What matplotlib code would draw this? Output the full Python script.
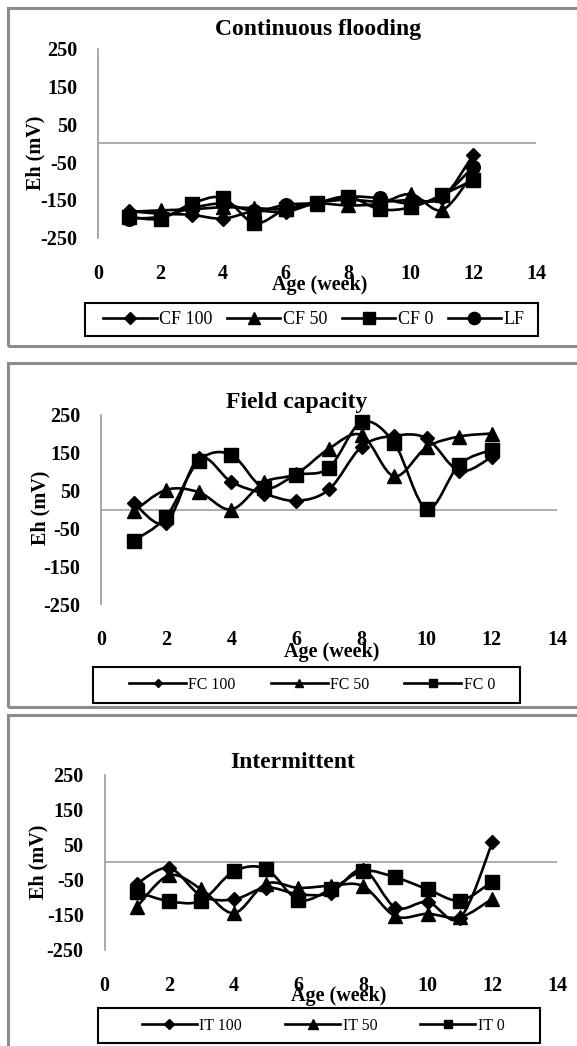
import numpy as np
import matplotlib
matplotlib.use('Agg')
import matplotlib.pyplot as plt
from matplotlib.path import Path
from matplotlib.patches import PathPatch, Rectangle
from matplotlib.lines import Line2D

plt.rcParams['font.family'] = ['Liberation Serif', 'DejaVu Serif']

# semanas
weeks = [1, 2, 3, 4, 5, 6, 7, 8, 9, 10, 11, 12]

# Continuous flooding
cf_100 = [-180, -187, -190, -200, -180, -182, -158, -150, -155, -150, -145, -30]
cf_50 = [-182, -178, -175, -170, -172, -175, -160, -165, -160, -135, -177, -78]
cf_0 = [-195, -200, -160, -145, -212, -175, -158, -142, -175, -170, -137, -97]
lf = [-200, -195, -172, -160, -180, -163, -158, -142, -146, -160, -140, -62]

# Field capacity
fc_100 = [18, -35, 135, 73, 42, 23, 53, 166, 195, 188, 102, 139]
fc_50 = [-5, 52, 46, 0, 72, 95, 161, 197, 88, 165, 193, 201]
fc_0 = [-83, -19, 128, 145, 57, 91, 110, 231, 176, 2, 119, 158]

# Intermittent
it_100 = [-62, -17, -97, -107, -73, -92, -88, -22, -130, -114, -160, 56]
it_50 = [-128, -38, -78, -146, -62, -74, -68, -69, -155, -148, -158, -105]
it_0 = [-85, -112, -110, -27, -20, -108, -78, -26, -44, -78, -110, -56]

y_ticks = [-250, -150, -50, 50, 150, 250]
x_ticks = [0, 2, 4, 6, 8, 10, 12, 14]

W, H = 577, 1046
fig = plt.figure(figsize=(W / 100, H / 100), dpi=100)


def caja(l, t, r, b):
    return [l / W, 1 - b / H, (r - l) / W, (b - t) / H]


def fx(x):
    return x / W


def fy(y):
    return 1 - y / H


def rect(l, t, r, b, color, lw):
    fig.add_artist(Rectangle((fx(l), fy(b)), (r - l) / W, (b - t) / H,
                             transform=fig.transFigure, fill=False,
                             edgecolor=color, lw=lw))


def curva(ax, x, y):
    # linea suavizada tipo Excel (Bezier)
    x = np.asarray(x, float)
    y = np.asarray(y, float)
    n = len(x)
    verts = [(x[0], y[0])]
    codes = [Path.MOVETO]
    for i in range(n - 1):
        i0 = max(i - 1, 0)
        i3 = min(i + 2, n - 1)
        c1 = (x[i] + (x[i + 1] - x[i0]) / 6, y[i] + (y[i + 1] - y[i0]) / 6)
        c2 = (x[i + 1] - (x[i3] - x[i]) / 6, y[i + 1] - (y[i3] - y[i]) / 6)
        verts += [c1, c2, (x[i + 1], y[i + 1])]
        codes += [Path.CURVE4] * 3
    ax.add_patch(PathPatch(Path(verts, codes), fill=False, edgecolor='black',
                           lw=1.9, zorder=2, capstyle='round', joinstyle='round'))


marcadores = {'D': 7.2, '^': 10, 's': 9.8, 'o': 9.8}


def panel(ax_box, borde, titulo, t_pos, yl_pos, xl_pos, series, nombres,
          ley_box, ley_centro, ley_size, ley_scale, ley_hl, ley_cs):
    rect(*borde, '#8c8c8c', 2.2)
    ax = fig.add_axes(caja(*ax_box))
    ax.set_xlim(0, 14)
    ax.set_ylim(-250, 250)
    ax.set_xticks(x_ticks)
    ax.set_yticks(y_ticks)
    ax.set_xticklabels([str(v) for v in x_ticks], fontsize=14.5, fontweight='bold')
    ax.set_yticklabels([str(v) for v in y_ticks], fontsize=14.5, fontweight='bold')
    ax.tick_params(length=0)
    ax.tick_params(axis='x', pad=19)
    ax.tick_params(axis='y', pad=15)
    for s in ['top', 'right', 'bottom']:
        ax.spines[s].set_visible(False)
    ax.spines['left'].set_color('#9a9a9a')
    ax.spines['left'].set_linewidth(1.2)
    ax.axhline(0, color='#a0a0a0', lw=1.2, zorder=1)
    ax.patch.set_alpha(0)

    handles = []
    for (vals, m) in series:
        curva(ax, weeks, vals)
        ax.plot(weeks, vals, linestyle='none', marker=m, markersize=marcadores[m],
                color='black', zorder=3, clip_on=False)
        handles.append(Line2D([], [], color='black', lw=1.9, marker=m,
                              markersize=marcadores[m]))

    fig.text(fx(t_pos[0]), fy(t_pos[1]), titulo, ha='center', va='baseline',
             fontsize=17, fontweight='bold')
    fig.text(fx(yl_pos[0]), fy(yl_pos[1]), 'Eh (mV)', ha='center', va='center',
             rotation=90, fontsize=14.5, fontweight='bold')
    fig.text(fx(xl_pos[0]), fy(xl_pos[1]), 'Age (week)', ha='center', va='baseline',
             fontsize=14.5, fontweight='bold')

    rect(*ley_box, 'black', 1.5)
    fig.legend(handles, nombres, loc='center',
               bbox_to_anchor=(fx(ley_centro), fy((ley_box[1] + ley_box[3]) / 2)),
               ncol=len(nombres), fontsize=ley_size, markerscale=ley_scale,
               handlelength=ley_hl, handletextpad=0.15, columnspacing=ley_cs,
               borderpad=0, borderaxespad=0, frameon=False)
    return ax


panel((98, 49, 536, 237.5), (8, 7.5, 600, 345.5), 'Continuous flooding',
      (318, 35), (35, 153), (320, 290),
      [(cf_100, 'D'), (cf_50, '^'), (cf_0, 's'), (lf, 'o')],
      ['CF 100', 'CF 50', 'CF 0', 'LF'],
      (85, 302.7, 538, 336), 314, 13, 0.9, 2.95, 0.8)

panel((101, 415, 557, 604), (7.5, 363, 600, 707), 'Field capacity',
      (297, 408), (40, 508), (332, 656.5),
      [(fc_100, 'D'), (fc_50, '^'), (fc_0, 's')],
      ['FC 100', 'FC 50', 'FC 0'],
      (93.3, 666.7, 520, 703.3), 312, 11.4, 0.55, 3.6, 2.2)

panel((104.5, 774.5, 557, 949.5), (7.5, 715, 600, 1070), 'Intermittent',
      (293, 768.3), (38, 861.7), (339, 1001.5),
      [(it_100, 'D'), (it_50, '^'), (it_0, 's')],
      ['IT 100', 'IT 50', 'IT 0'],
      (98.2, 1008.3, 539.5, 1042.7), 323, 11.4, 0.65, 3.5, 2.7)

fig.savefig('out.png', dpi=100)
